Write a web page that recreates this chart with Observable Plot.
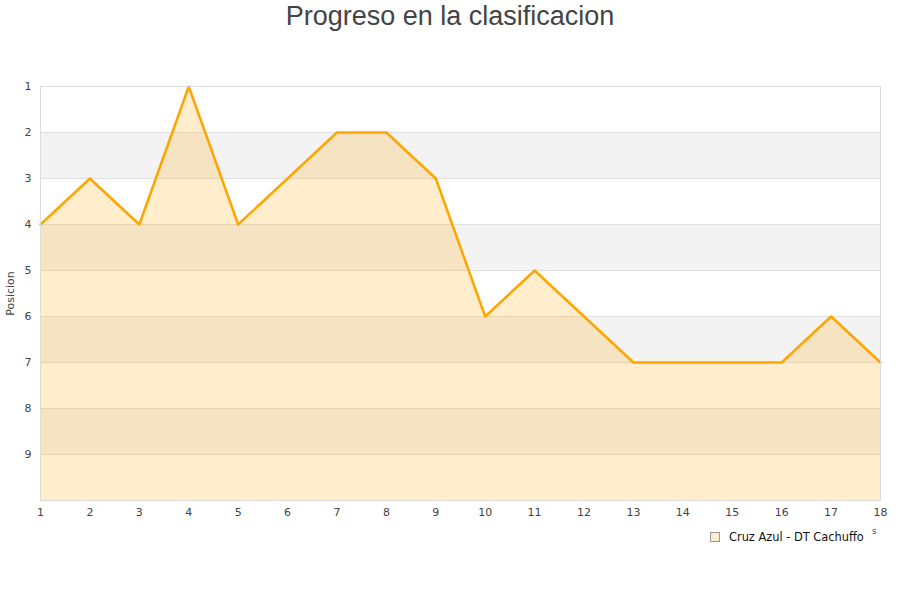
<!DOCTYPE html>
<html>
<head>
<meta charset="utf-8">
<script src="https://cdn.jsdelivr.net/npm/d3@7"></script>
<script src="https://cdn.jsdelivr.net/npm/@observablehq/plot@0.6"></script>
<style>
  body { margin: 0; background: #fff; }
  #wrap { position: relative; width: 900px; height: 600px; font-family: "DejaVu Sans", sans-serif; }
  #title { position: absolute; top: 0; left: 0; width: 900px; text-align: center; font-family: "Liberation Sans", Arial, sans-serif; font-size: 27px; color: #444; line-height: 32px; }
  #chart { position: absolute; top: 0; left: 0; }
  #legend { position: absolute; left: 710px; top: 530px; font-size: 11.4px; color: #111; display: flex; align-items: center; }
  #legend .sw { width: 8px; height: 8px; background: #feedcc; border: 1px solid #999; margin-right: 9px; }
  #xtitle { position: absolute; left: 872px; top: 526px; font-size: 9px; color: #444; }
</style>
</head>
<body>
<div id="wrap">
  <div id="chart"></div>
  <div id="title">Progreso en la clasificacion</div>
  <div id="legend"><div class="sw"></div><span>Cruz Azul - DT Cachuffo</span></div>
  <div id="xtitle">s</div>
</div>
<script>
const jornadas = [1,2,3,4,5,6,7,8,9,10,11,12,13,14,15,16,17,18];
const posiciones = [4,3,4,1,4,3,2,2,3,6,5,6,7,7,7,7,6,7];
const xTicks = [1,2,3,4,5,6,7,8,9,10,11,12,13,14,15,16,17,18];
const yTicks = [1,2,3,4,5,6,7,8,9];
const bandStarts = [2,4,6,8];
const serieNombre = "Cruz Azul - DT Cachuffo";

const data = jornadas.map((j, i) => ({jornada: j, posicion: posiciones[i]}));
const bands = bandStarts.map(b => ({y1: b, y2: b + 1}));

const chart = Plot.plot({
  width: 900,
  height: 600,
  marginTop: 86,
  marginBottom: 100,
  marginLeft: 40,
  marginRight: 20,
  style: {fontFamily: "DejaVu Sans, sans-serif", fontSize: "11px", color: "#444", background: "#fff"},
  x: {domain: [1, 18], ticks: xTicks, tickSize: 0, tickPadding: 8, label: null},
  y: {domain: [1, 10], reverse: true, ticks: yTicks, tickSize: 0, tickPadding: 9, label: null},
  marks: [
    Plot.rect(bands, {x1: 1, x2: 18, y1: "y1", y2: "y2", fill: "#f3f3f3"}),
    Plot.ruleY(yTicks.concat([10]), {stroke: "#e0e0e0", strokeWidth: 1}),
    Plot.areaY(data, {x: "jornada", y1: 10, y2: "posicion", fill: "#ffa500", fillOpacity: 0.2}),
    Plot.lineY(data, {x: "jornada", y: "posicion", stroke: "#ffa500", strokeWidth: 2.5}),
    Plot.frame({stroke: "#dcdcdc"}),
    Plot.axisX({ticks: xTicks, tickSize: 0, tickPadding: 8, label: null}),
    Plot.axisY({ticks: yTicks, tickSize: 0, tickPadding: 9, label: null}),
    Plot.text(["Posicion"], {frameAnchor: "left", dx: -30, rotate: -90, textAnchor: "middle", fontSize: 11, fill: "#444"})
  ]
});
document.getElementById("chart").appendChild(chart);
</script>
</body>
</html>
